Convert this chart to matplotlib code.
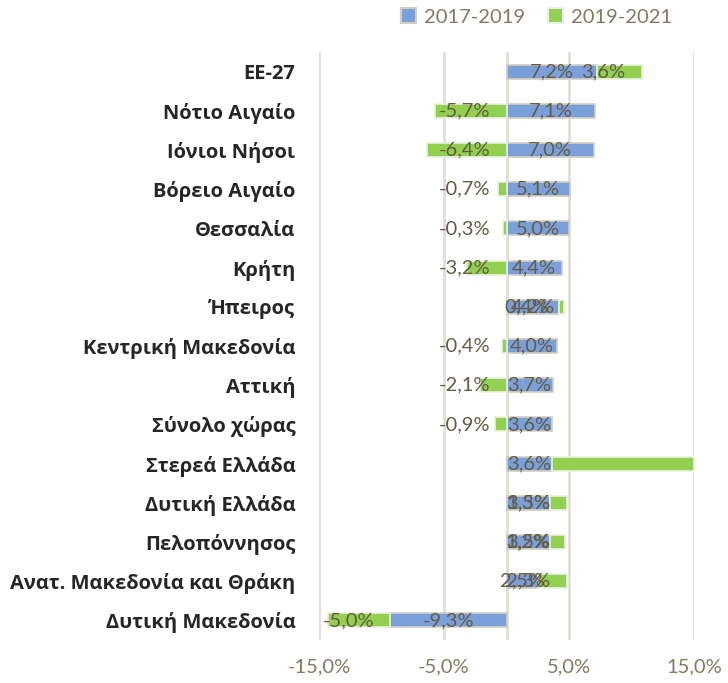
import numpy as np
import matplotlib
matplotlib.use("Agg")
import matplotlib.pyplot as plt
from matplotlib.patches import Patch

# Δεδομένα (από πάνω προς τα κάτω)
regions = ['ΕΕ-27', 'Νότιο Αιγαίο', 'Ιόνιοι Νήσοι', 'Βόρειο Αιγαίο', 'Θεσσαλία',
           'Κρήτη', 'Ήπειρος', 'Κεντρική Μακεδονία', 'Αττική', 'Σύνολο χώρας',
           'Στερεά Ελλάδα', 'Δυτική Ελλάδα', 'Πελοπόννησος',
           'Ανατ. Μακεδονία και Θράκη', 'Δυτική Μακεδονία']
chg_2017_2019 = [7.2, 7.1, 7.0, 5.1, 5.0, 4.4, 4.2, 4.0, 3.7, 3.6, 3.6, 3.5, 3.5, 2.5, -9.3]
chg_2019_2021 = [3.6, -5.7, -6.4, -0.7, -0.3, -3.2, 0.4, -0.4, -2.1, -0.9, 11.4, 1.3, 1.2, 2.3, -5.0]
series_names = ['2017-2019', '2019-2021']
x_ticks = [-15, -5, 5, 15]

BLUE = '#7aa0dc'
GREEN = '#92d050'
LABEL_C = '#665c44'
TICK_C = '#847a60'
GRID_C = '#e2ded7'


def pct(v):
    return ('%.1f%%' % v).replace('.', ',')


fig = plt.figure(figsize=(7.28, 6.83), dpi=100)
ax = fig.add_axes([319 / 728, 1 - 640 / 683, 375 / 728, 588 / 683])

y = np.arange(len(regions))
b = np.array(chg_2017_2019)
g = np.array(chg_2019_2021)
# στοίβαξη όπως στο Excel: θετικά πάνω σε θετικά, αρνητικά πάνω σε αρνητικά
g_left = np.where(np.sign(g) == np.sign(b), b, 0.0)

ax.barh(y, b, height=0.36, color=BLUE, edgecolor='#d3cebf', linewidth=1.2, zorder=3)
ax.barh(y, g, left=g_left, height=0.36, color=GREEN, edgecolor='#e8f1e2', linewidth=1.2, zorder=3)

ax.set_xlim(-15, 15)
ax.set_ylim(len(regions) - 0.5, -0.5)

# ετικέτες δεδομένων
for i in range(len(regions)):
    ax.text(b[i] / 2, y[i], pct(b[i]), ha='center', va='center',
            fontsize=14.5, color=LABEL_C, family='Lato', zorder=4)
    right = max(g_left[i], g_left[i] + g[i])
    if right >= 15 - 1e-9:
        continue  # εκτός ορίων άξονα
    ax.annotate(pct(g[i]), xy=(right, y[i]), xytext=(-11.5, 0), textcoords='offset points',
                ha='right', va='center', fontsize=14.5, color=LABEL_C, family='Lato', zorder=4)

ax.set_xticks(x_ticks)
ax.set_xticklabels([pct(t) for t in x_ticks], fontsize=14.5, color=TICK_C, family='Lato')
ax.set_yticks(y)
ax.set_yticklabels(regions, fontsize=14.5, fontweight='bold', color='#262626', family='Open Sans')
ax.tick_params(axis='both', length=0)
ax.tick_params(axis='x', pad=13)
ax.tick_params(axis='y', pad=17)

ax.grid(axis='x', color=GRID_C, linewidth=2, zorder=0)
ax.axvline(0, color=GRID_C, linewidth=2, zorder=1)
for s in ax.spines.values():
    s.set_visible(False)

handles = [Patch(facecolor=BLUE, edgecolor='#d3cebf', linewidth=1.5),
           Patch(facecolor=GREEN, edgecolor='#e8f1e2', linewidth=1.5)]
leg = fig.legend(handles, series_names, loc='center', bbox_to_anchor=(0.737, 0.975),
                 ncol=2, frameon=False, handlelength=0.75, handleheight=0.75,
                 handletextpad=0.4, columnspacing=1.1,
                 prop={'family': 'Lato', 'size': 14.5})
for t in leg.get_texts():
    t.set_color(TICK_C)

fig.savefig('out.png', dpi=100)
